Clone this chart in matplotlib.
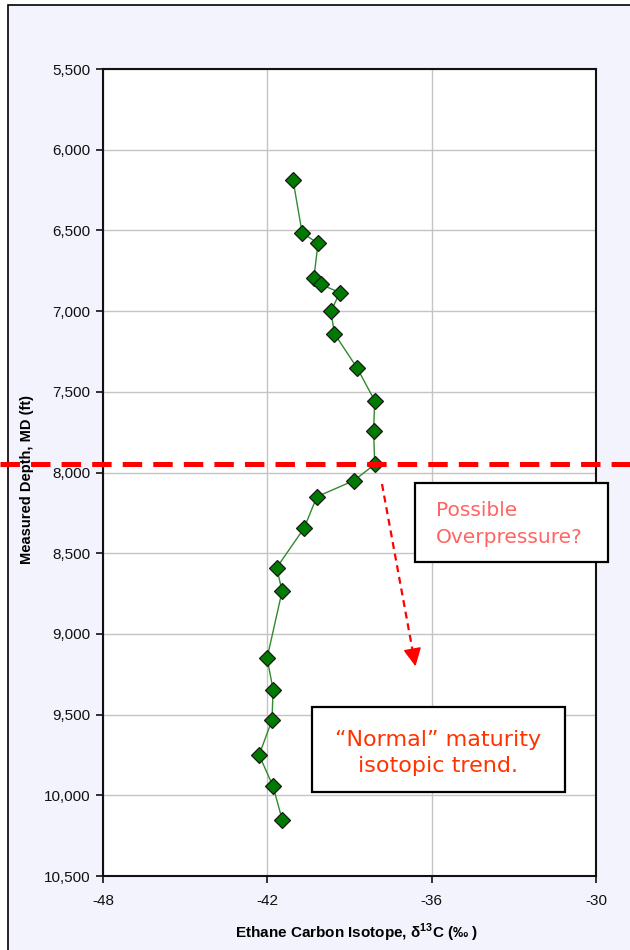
import numpy as np
import matplotlib.pyplot as plt
from matplotlib.lines import Line2D
from matplotlib.patches import Rectangle, FancyArrowPatch
from matplotlib.ticker import FuncFormatter

plt.rcParams['font.family'] = ['Liberation Sans', 'DejaVu Sans']
plt.rcParams['mathtext.fontset'] = 'custom'
plt.rcParams['mathtext.rm'] = 'Liberation Sans:bold'
plt.rcParams['mathtext.bf'] = 'Liberation Sans:bold'
plt.rcParams['lines.scale_dashes'] = False
plt.rcParams['axes.unicode_minus'] = False

# ethane d13C (per mil) vs measured depth (ft)
d13c = [-41.06, -40.73, -40.15, -40.3, -40.05, -39.35, -39.68, -39.55, -38.73,
        -38.08, -38.12, -38.08, -38.84, -40.19, -40.66, -41.66, -41.46,
        -42.01, -41.79, -41.83, -42.3, -41.79, -41.46]
depth = [6190, 6515, 6580, 6795, 6835, 6885, 7000, 7140, 7350,
         7555, 7740, 7950, 8050, 8150, 8345, 8590, 8735,
         9150, 9345, 9535, 9750, 9945, 10150]

xticks = [-48, -42, -36, -30]
yticks = list(range(5500, 10501, 500))

W, H = 630, 950
fig = plt.figure(figsize=(6.3, 9.5), dpi=100)
fig.patch.set_facecolor('white')

# slide-style lavender panel with black frame
fig.patches.append(Rectangle((8 / W, -0.05), 1.1, 1 - 5 / H + 0.05, transform=fig.transFigure,
                             facecolor='#F3F3FD', edgecolor='black', lw=1.2, zorder=-5))

ax = fig.add_axes([103 / W, 1 - 876 / H, (596 - 103) / W, (876 - 69) / H])
ax.set_facecolor('white')

ax.plot(d13c, depth, color='#2E8B2E', lw=1.0, marker='D', ms=8.3,
        markerfacecolor='#007A00', markeredgecolor='#1A1A1A', markeredgewidth=0.9, zorder=3)

ax.set_xlim(-48, -30)
ax.set_ylim(10500, 5500)
ax.set_xticks(xticks)
ax.set_yticks(yticks)
ax.yaxis.set_major_formatter(FuncFormatter(lambda v, p: f'{int(v):,}'))
ax.grid(True, color='#C4C4C4', lw=1.0)
ax.set_axisbelow(True)
for s in ax.spines.values():
    s.set_color('#111111')
    s.set_linewidth(1.5)
ax.tick_params(direction='out', length=5, width=1.2, colors='#111111', labelsize=11, pad=4)
ax.tick_params(axis='x', pad=8)

fig.text(27 / W, 1 - 480 / H, 'Measured Depth, MD (ft)', rotation=90, ha='center', va='center',
         fontsize=10.5, fontweight='bold', family=['Liberation Sans Narrow', 'Liberation Sans'])
fig.text(357 / W, 1 - 933 / H, r'Ethane Carbon Isotope, δ$^{13}$C (‰ )', ha='center', va='center',
         fontsize=11, fontweight='bold', family=['Liberation Sans Narrow', 'Liberation Sans'])

# overpressure marker line across the whole slide
fig.lines.append(Line2D([0, 1], [1 - 464 / H] * 2, transform=fig.transFigure, color='#FF0000',
                        lw=3.6, dashes=(14, 8), zorder=10))

# dashed trend arrow: dashed shaft + solid head
x0, y0, x1, y1 = 382, 484, 416, 669
fig.lines.append(Line2D([x0 / W, (x0 + (x1 - x0) * 0.93) / W],
                        [1 - y0 / H, 1 - (y0 + (y1 - y0) * 0.93) / H],
                        transform=fig.transFigure, color='#FF0000', lw=1.6, dashes=(5, 3.5), zorder=9))
fig.patches.append(FancyArrowPatch(((x0 + (x1 - x0) * 0.9) / W, 1 - (y0 + (y1 - y0) * 0.9) / H),
                                   (x1 / W, 1 - y1 / H), transform=fig.transFigure,
                                   arrowstyle='-|>,head_length=11,head_width=5.5', mutation_scale=1,
                                   color='#FF0000', lw=1.2, zorder=9))

# annotation boxes
fig.patches.append(Rectangle((415 / W, 1 - 562 / H), 193 / W, 79 / H, transform=fig.transFigure,
                             facecolor='white', edgecolor='black', lw=1.6, zorder=11))
fig.text(436 / W, 1 - 524 / H, 'Possible\nOverpressure?', ha='left', va='center',
         fontsize=14.5, color='#FF6464', family='DejaVu Sans', linespacing=1.55, zorder=12)

fig.patches.append(Rectangle((312 / W, 1 - 792 / H), 253 / W, 85 / H, transform=fig.transFigure,
                             facecolor='white', edgecolor='black', lw=1.6, zorder=11))
fig.text(438 / W, 1 - 753 / H, '\u201cNormal\u201d maturity\nisotopic trend.', ha='center', va='center',
         fontsize=16, color='#FF3300', family='DejaVu Sans', linespacing=1.4, zorder=12)

fig.savefig('out.png', dpi=100)
